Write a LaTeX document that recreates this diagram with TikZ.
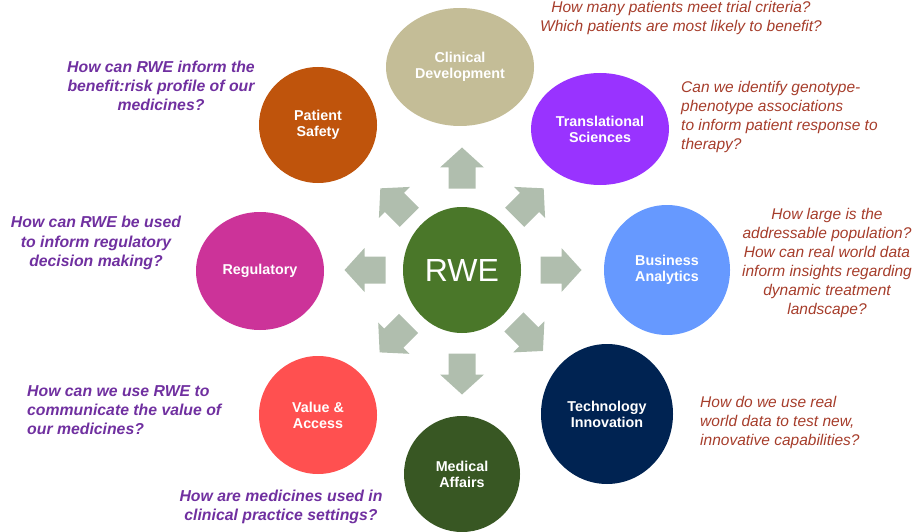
\documentclass[tikz,border=0pt]{standalone}
\usepackage{fontspec}
\setmainfont{Liberation Sans}
\usetikzlibrary{calc,shapes.geometric}
\definecolor{rweGreen}{RGB}{74,119,41}
\definecolor{clinTan}{RGB}{196,189,151}
\definecolor{transPurple}{RGB}{153,51,255}
\definecolor{safetyRust}{RGB}{191,84,12}
\definecolor{regMagenta}{RGB}{204,51,153}
\definecolor{busBlue}{RGB}{102,153,255}
\definecolor{valueCoral}{RGB}{255,80,80}
\definecolor{medGreen}{RGB}{56,87,35}
\definecolor{techNavy}{RGB}{0,35,82}
\definecolor{arrowSage}{RGB}{176,190,174}
\definecolor{qPurple}{RGB}{112,48,160}
\definecolor{qRed}{RGB}{166,61,43}

\begin{document}
\begin{tikzpicture}[x=1pt,y=1pt,
  spoke/.style={ellipse,inner sep=0pt,text=white,align=center,font=\bfseries\fontsize{14.3}{16}\selectfont},
  askRed/.style={inner sep=0pt,text=qRed,font=\itshape\fontsize{15.5}{19}\selectfont},
  askPurple/.style={inner sep=0pt,text=qPurple,font=\bfseries\itshape\fontsize{15.8}{19.3}\selectfont}]
  \useasboundingbox (0,0) rectangle (917,531);
  % hub
  \node[ellipse,inner sep=0pt,fill=rweGreen,text=white,minimum width=118pt,minimum height=126pt,
    font=\fontsize{32}{36}\selectfont] (rwe) at (462,261) {RWE};
  % spokes
  \node[spoke,fill=clinTan,minimum width=148pt,minimum height=118pt] (clin) at (460,464) {Clinical\\Development};
  \node[spoke,fill=transPurple,minimum width=138pt,minimum height=112pt] (trans) at (600,402) {Translational\\Sciences};
  \node[spoke,fill=safetyRust,minimum width=118pt,minimum height=116pt] (safety) at (318,406) {Patient\\Safety};
  \node[spoke,fill=regMagenta,minimum width=128pt,minimum height=118pt] (reg) at (260,260) {Regulatory};
  \node[spoke,fill=busBlue,minimum width=126pt,minimum height=130pt] (bus) at (667,261) {Business\\Analytics};
  \node[spoke,fill=valueCoral,minimum width=118pt,minimum height=118pt] (value) at (318,116) {Value \&\\Access};
  \node[spoke,fill=medGreen,minimum width=116pt,minimum height=116pt] (med) at (462,57) {Medical\\Affairs};
  \node[spoke,fill=techNavy,minimum width=132pt,minimum height=140pt] (tech) at (607,117) {Technology\\Innovation};
  % block arrows round the hub
  \foreach \ang/\dist in {0/99,45/95,90/102,135/95,180/97,225/96,270/104,315/94}
    \fill[arrowSage,shift={($(rwe.center)+(\ang:\dist)$)},rotate=\ang]
      (-20.5,-13.5) -- (0.5,-13.5) -- (0.5,-22) -- (20.5,0) -- (0.5,22) -- (0.5,13.5) -- (-20.5,13.5) -- cycle;
  % questions
  \node[askRed,align=center] (qclin) at (681,513.5) {How many patients meet trial criteria?\\Which patients are most likely to benefit?};
  \node[askRed,align=left,anchor=west] (qtrans) at (681,414) {Can we identify genotype-\\phenotype associations\\to inform patient response to\\therapy?};
  \node[askRed,align=center] (qbus) at (827,268.5) {How large is the\\addressable population?\\How can real world data\\inform insights regarding\\dynamic treatment\\landscape?};
  \node[askRed,align=left,anchor=west] (qtech) at (700,109) {How do we use real\\world data to test new,\\innovative capabilities?};
  \node[askPurple,align=center] (qsafety) at (161,445) {How can RWE inform the\\benefit:risk profile of our\\medicines?};
  \node[askPurple,align=center] (qreg) at (96,288) {How can RWE be used\\to inform regulatory\\decision making?};
  \node[askPurple,align=left,anchor=west] (qvalue) at (27,121) {How can we use RWE to\\communicate the value of\\our medicines?};
  \node[askPurple,align=center] (qmed) at (281,24) {How are medicines used in\\clinical practice settings?};
\end{tikzpicture}
\end{document}
